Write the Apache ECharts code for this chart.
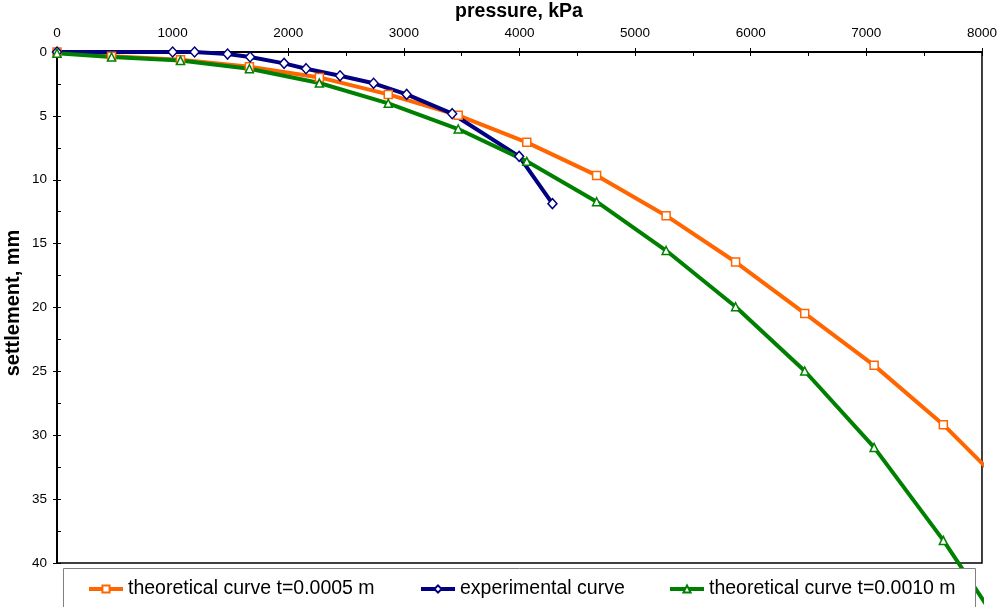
<!DOCTYPE html>
<html>
<head>
<meta charset="utf-8">
<script src="https://cdn.jsdelivr.net/npm/echarts@6/dist/echarts.min.js"></script>
<style>
html,body{margin:0;padding:0;background:#fff;}
#chart{width:1000px;height:607px;}
</style>
</head>
<body>
<div id="chart"></div>
<script>
// ---- data ----
var seriesNames = ['theoretical curve t=0.0005 m', 'experimental curve', 'theoretical curve t=0.0010 m'];
var pressureTheory = [0, 472, 1068, 1664, 2269, 2865, 3470, 4063, 4667, 5268, 5869, 6467, 7067, 7666, 8267];
var settleT0005 = [0, 0.34, 0.6, 1.15, 1.99, 3.32, 4.96, 7.07, 9.66, 12.81, 16.44, 20.46, 24.53, 29.17, 34.6];
var settleT0010 = [0.1, 0.39, 0.66, 1.31, 2.43, 4.02, 6.03, 8.56, 11.72, 15.54, 19.94, 24.97, 30.95, 38.23, 46.4];
var pressureExp = [0, 1000, 1190, 1475, 1670, 1964, 2154, 2448, 2738, 3024, 3418, 3997, 4285];
var settleExp = [0, 0, 0, 0.16, 0.39, 0.89, 1.31, 1.86, 2.45, 3.32, 4.83, 8.17, 11.87];
var xTitle = 'pressure, kPa';
var yTitle = 'settlement, mm';

function pairs(xs, ys) { return xs.map(function (x, i) { return [x, ys[i]]; }); }

var FONT = 'Liberation Sans, Arial, sans-serif';
var chart = echarts.init(document.getElementById('chart'), null, { renderer: 'canvas' });

function lineSeries(name, data, color, symbol, size) {
  return {
    name: name, type: 'line', data: data, clip: false,
    symbol: symbol, symbolSize: size, showSymbol: true,
    lineStyle: { color: color, width: 4 },
    itemStyle: { color: '#fff', borderColor: color, borderWidth: 1.5 },
    emphasis: { disabled: true }, animation: false
  };
}

function legendAt(name, left) {
  return {
    data: [name], left: left, top: 578, padding: 0, z: 20,
    itemWidth: 34, itemHeight: 9, selectedMode: false,
    lineStyle: { width: 4 },
    textStyle: { fontFamily: FONT, fontSize: 19.5, color: '#000', lineHeight: 22 }
  };
}

function plain(v) { return String(v); }

var option = {
  backgroundColor: '#fff',
  animation: false,
  grid: { left: 57, right: 17, top: 52, bottom: 44, show: true, borderColor: '#000', borderWidth: 1.5, backgroundColor: 'transparent' },
  xAxis: [{
    type: 'value', position: 'top', min: 0, max: 8000, interval: 1000,
    axisLine: { show: true, lineStyle: { color: '#000', width: 2 } },
    axisTick: { show: true, inside: false, length: 4, lineStyle: { color: '#000', width: 1 } },
    axisLabel: { color: '#000', fontFamily: FONT, fontSize: 13.5, margin: 12, formatter: plain },
    splitLine: { show: false }
  }, {
    type: 'value', position: 'top', min: 0, max: 8000, interval: 1000,
    axisLine: { show: false },
    axisTick: { show: true, inside: true, length: 4, lineStyle: { color: '#000', width: 1 } },
    minorTick: { show: true, splitNumber: 2, length: 4, lineStyle: { color: '#000', width: 1 } },
    axisLabel: { show: false }, splitLine: { show: false }
  }],
  yAxis: [{
    type: 'value', inverse: true, min: 0, max: 40, interval: 5,
    axisLine: { show: true, lineStyle: { color: '#000', width: 2 } },
    axisTick: { show: true, inside: false, length: 4, lineStyle: { color: '#000', width: 1 } },
    axisLabel: { color: '#000', fontFamily: FONT, fontSize: 13.5, margin: 10, formatter: plain },
    splitLine: { show: false }
  }, {
    type: 'value', position: 'left', inverse: true, min: 0, max: 40, interval: 5,
    axisLine: { show: false },
    axisTick: { show: true, inside: true, length: 4, lineStyle: { color: '#000', width: 1 } },
    minorTick: { show: true, splitNumber: 2, length: 4, lineStyle: { color: '#000', width: 1 } },
    axisLabel: { show: false }, splitLine: { show: false }
  }],
  legend: [
    legendAt(seriesNames[0], 87),
    legendAt(seriesNames[1], 419),
    legendAt(seriesNames[2], 668)
  ],
  graphic: [
    { type: 'rect', z: 10, shape: { x: 63.5, y: 568.5, width: 912, height: 60 },
      style: { fill: '#fff', stroke: '#808080', lineWidth: 1 } },
    { type: 'text', z: 10, x: 519, y: 12,
      style: { text: xTitle, font: 'bold 19.5px ' + FONT, fill: '#000', textAlign: 'center', textVerticalAlign: 'middle' } },
    { type: 'text', z: 10, x: 13, y: 303, rotation: Math.PI / 2,
      style: { text: yTitle, font: 'bold 20px ' + FONT, fill: '#000', textAlign: 'center', textVerticalAlign: 'middle' } }
  ],
  series: [
    lineSeries(seriesNames[0], pairs(pressureTheory, settleT0005), '#FF6600', 'rect', 8),
    lineSeries(seriesNames[1], pairs(pressureExp, settleExp), '#000080', 'diamond', [9, 10]),
    lineSeries(seriesNames[2], pairs(pressureTheory, settleT0010), '#008000', 'triangle', 8)
  ]
};
chart.setOption(option);
</script>
</body>
</html>
